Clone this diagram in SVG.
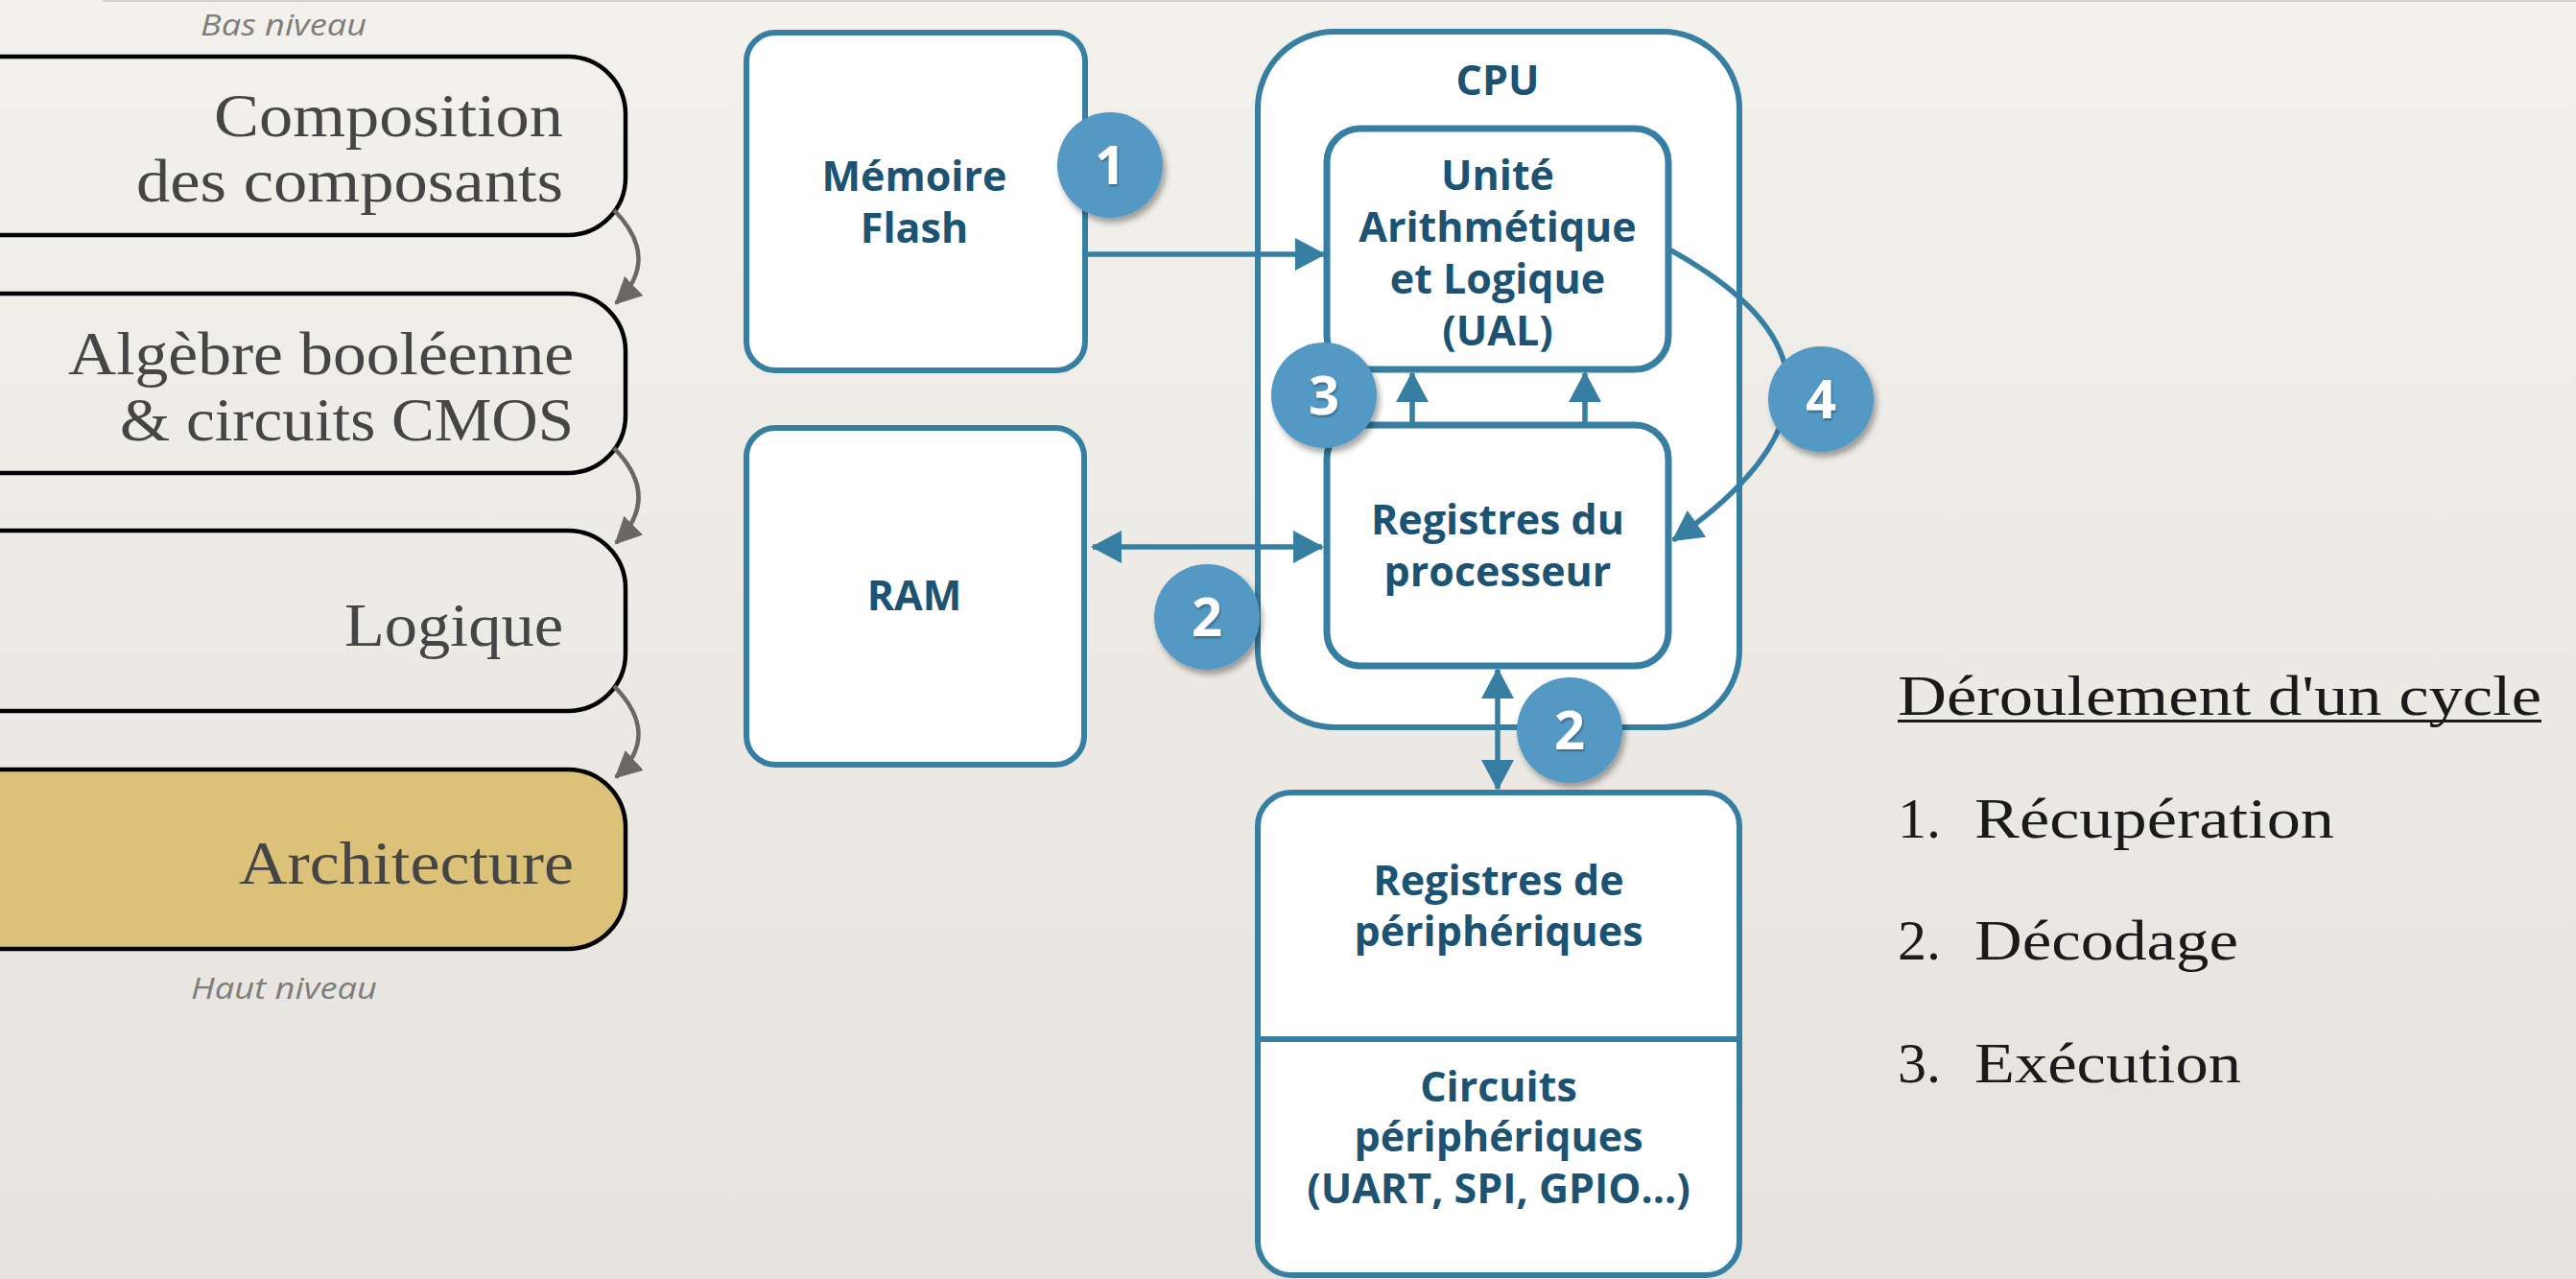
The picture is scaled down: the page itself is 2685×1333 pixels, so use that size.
<svg xmlns="http://www.w3.org/2000/svg" width="2685" height="1333" viewBox="0 0 2685 1333">
<defs>
<linearGradient id="bg" x1="0" y1="0" x2="0" y2="1">
<stop offset="0" stop-color="#f3f1ec"/>
<stop offset="1" stop-color="#e6e3de"/>
</linearGradient>
<filter id="sh" x="-30%" y="-30%" width="170%" height="170%">
<feDropShadow dx="3" dy="5" stdDeviation="3" flood-color="#000" flood-opacity="0.35"/>
</filter>
<filter id="tsh" x="-30%" y="-30%" width="160%" height="160%">
<feDropShadow dx="1" dy="2" stdDeviation="1" flood-color="#000" flood-opacity="0.35"/>
</filter>
<marker id="ab" markerUnits="userSpaceOnUse" markerWidth="32" markerHeight="34" refX="30" refY="17" orient="auto-start-reverse" viewBox="0 0 32 34">
<path d="M0,0 L32,17 L0,34 z" fill="#367ea2"/>
</marker>
<marker id="ag" markerUnits="userSpaceOnUse" markerWidth="28" markerHeight="28" refX="26" refY="14" orient="auto" viewBox="0 0 28 28">
<path d="M0,0 L28,14 L0,28 z" fill="#6b6863"/>
</marker>
</defs>
<style>
.lvl{fill:none;stroke:#000;stroke-width:4.5}
.lvl.on{fill:#dcc279}
.lt{font-family:"Liberation Serif",serif;font-size:64px;fill:#454545}
.cap{font-family:"Open Sans","Liberation Sans",sans-serif;font-style:italic;font-size:31px;fill:#7f7d7a}
.bx{fill:#fff;stroke:#367ea2;stroke-width:6}
.bx.in{stroke-width:7}
.bt{font-family:"Open Sans","Liberation Sans",sans-serif;font-weight:700;font-size:43px;fill:#1c5272;text-anchor:middle}
.ln{fill:none;stroke:#367ea2;stroke-width:5.5}
.ga{fill:none;stroke:#6b6863;stroke-width:4.5}
.bd{fill:#5399c4}
.bn{font-family:"Open Sans","Liberation Sans",sans-serif;font-weight:700;font-size:56px;fill:#fff;text-anchor:middle}
.rt{font-family:"Liberation Serif",serif;font-size:60px;fill:#1a1a1a}
</style>
<rect x="0" y="0" width="2685" height="1333" fill="url(#bg)"/>
<line x1="107" y1="1" x2="2685" y2="1" stroke="#d6d3ce" stroke-width="2"/>

<g id="levels">
<g id="lvl-composition">
<rect class="lvl" x="-60" y="59" width="712" height="186" rx="60"/>
<text class="lt" x="223" y="142" textLength="364" lengthAdjust="spacingAndGlyphs">Composition</text>
<text class="lt" x="142" y="210" textLength="445" lengthAdjust="spacingAndGlyphs">des composants</text>
</g>
<g id="lvl-algebre">
<rect class="lvl" x="-60" y="306" width="712" height="187" rx="60"/>
<text class="lt" x="71" y="390" textLength="527" lengthAdjust="spacingAndGlyphs">Algèbre booléenne</text>
<text class="lt" x="125" y="459" textLength="473" lengthAdjust="spacingAndGlyphs">&amp; circuits CMOS</text>
</g>
<g id="lvl-logique">
<rect class="lvl" x="-60" y="553" width="712" height="188" rx="60"/>
<text class="lt" x="359" y="673" textLength="228" lengthAdjust="spacingAndGlyphs">Logique</text>
</g>
<g id="lvl-architecture">
<rect class="lvl on" x="-60" y="802" width="712" height="187" rx="60"/>
<text class="lt" x="249" y="921" textLength="349" lengthAdjust="spacingAndGlyphs">Architecture</text>
</g>
<text class="cap" x="209" y="37" textLength="173" lengthAdjust="spacingAndGlyphs">Bas niveau</text>
<text class="cap" x="199" y="1041" textLength="194" lengthAdjust="spacingAndGlyphs">Haut niveau</text>
</g>

<g id="level-connectors">
<path class="ga" d="M640,219 Q690,270 642,316" marker-end="url(#ag)"/>
<path class="ga" d="M640,467 Q690,518 642,566" marker-end="url(#ag)"/>
<path class="ga" d="M640,715 Q690,766 642,810" marker-end="url(#ag)"/>
</g>

<g id="cpu">
<rect class="bx" x="1311" y="33" width="502" height="725" rx="80"/>
<text class="bt" x="1561" y="99">CPU</text>
</g>
<g id="flash">
<rect class="bx" x="778" y="34" width="353" height="352" rx="30"/>
<text class="bt" x="953" y="199">Mémoire</text>
<text class="bt" x="953" y="253">Flash</text>
</g>
<g id="ram">
<rect class="bx" x="778" y="446" width="352" height="351" rx="30"/>
<text class="bt" x="953" y="636">RAM</text>
</g>
<g id="ual">
<rect class="bx in" x="1383" y="134" width="356" height="251" rx="35"/>
<text class="bt" x="1561" y="198">Unité</text>
<text class="bt" x="1561" y="252">Arithmétique</text>
<text class="bt" x="1561" y="306">et Logique</text>
<text class="bt" x="1561" y="360">(UAL)</text>
</g>
<g id="registres">
<rect class="bx in" x="1383" y="443" width="356" height="251" rx="35"/>
<text class="bt" x="1561" y="557">Registres du</text>
<text class="bt" x="1561" y="611">processeur</text>
</g>
<g id="peripheriques">
<rect class="bx" x="1311" y="826" width="502" height="503" rx="35"/>
<line x1="1311" y1="1083" x2="1813" y2="1083" stroke="#367ea2" stroke-width="6"/>
<text class="bt" x="1562" y="933">Registres de</text>
<text class="bt" x="1562" y="986">périphériques</text>
<text class="bt" x="1562" y="1148">Circuits</text>
<text class="bt" x="1562" y="1200">périphériques</text>
<text class="bt" x="1562" y="1254">(UART, SPI, GPIO…)</text>
</g>

<g id="connectors">
<line class="ln" x1="1131" y1="265" x2="1380" y2="265" marker-end="url(#ab)"/>
<line class="ln" x1="1139" y1="570" x2="1378" y2="570" marker-start="url(#ab)" marker-end="url(#ab)"/>
<line class="ln" x1="1472" y1="443" x2="1472" y2="389" marker-end="url(#ab)"/>
<line class="ln" x1="1652" y1="443" x2="1652" y2="389" marker-end="url(#ab)"/>
<line class="ln" x1="1561" y1="698" x2="1561" y2="822" marker-start="url(#ab)" marker-end="url(#ab)"/>
<path class="ln" d="M1740,260 Q1985,395 1744,563" marker-end="url(#ab)"/>
</g>

<g id="badges">
<g id="badge-1" filter="url(#sh)"><circle class="bd" cx="1157" cy="172" r="55"/><text class="bn" x="1157" y="192" filter="url(#tsh)">1</text></g>
<g id="badge-2a" filter="url(#sh)"><circle class="bd" cx="1258" cy="643" r="55"/><text class="bn" x="1258" y="663" filter="url(#tsh)">2</text></g>
<g id="badge-3" filter="url(#sh)"><circle class="bd" cx="1380" cy="412" r="55"/><text class="bn" x="1380" y="432" filter="url(#tsh)">3</text></g>
<g id="badge-4" filter="url(#sh)"><circle class="bd" cx="1898" cy="416" r="55"/><text class="bn" x="1898" y="436" filter="url(#tsh)">4</text></g>
<g id="badge-2b" filter="url(#sh)"><circle class="bd" cx="1636" cy="761" r="55"/><text class="bn" x="1636" y="781" filter="url(#tsh)">2</text></g>
</g>

<g id="cycle">
<text class="rt" x="1978" y="745" textLength="671" lengthAdjust="spacingAndGlyphs">Déroulement d'un cycle</text>
<rect x="1978" y="750" width="671" height="3" fill="#1a1a1a"/>
<text class="rt" x="1978" y="873">1.</text>
<text class="rt" x="2058" y="873" textLength="375" lengthAdjust="spacingAndGlyphs">Récupération</text>
<text class="rt" x="1978" y="1000">2.</text>
<text class="rt" x="2058" y="1000" textLength="275" lengthAdjust="spacingAndGlyphs">Décodage</text>
<text class="rt" x="1978" y="1128">3.</text>
<text class="rt" x="2058" y="1128" textLength="278" lengthAdjust="spacingAndGlyphs">Exécution</text>
</g>
</svg>
